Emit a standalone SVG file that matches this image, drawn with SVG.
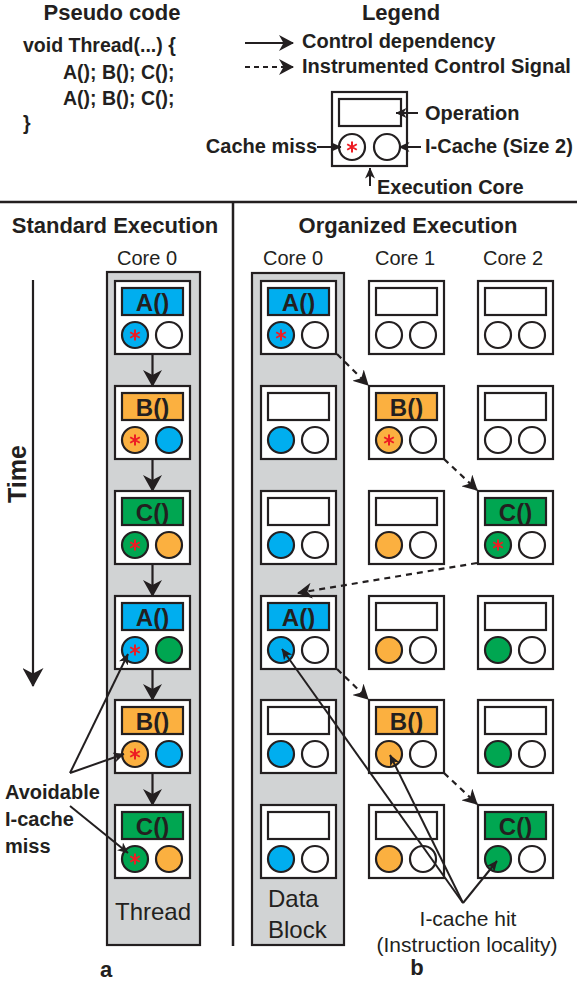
<svg xmlns="http://www.w3.org/2000/svg" width="579" height="982" viewBox="0 0 579 982">
<style>
text{font-family:"Liberation Sans",Arial,sans-serif;fill:#231F20}
.h{font-size:22px;font-weight:bold}
.code{font-size:19.5px;font-weight:bold}
.lg{font-size:20px;font-weight:bold}
.core{font-size:20px;text-anchor:middle}
.op{font-size:24px;font-weight:bold;text-anchor:middle}
.lbl{font-size:24px}
.hit{font-size:21px;text-anchor:middle}
.box{fill:#fff;stroke:#231F20;stroke-width:2.2}
.r{stroke:#231F20;stroke-width:2.2}
.bl{fill:#00AEEF}.or{fill:#FBB040}.gr{fill:#00A651}.wh{fill:#fff}
.col{fill:#D1D3D4;stroke:#231F20;stroke-width:2.2}
.ast{stroke:#ED1C24;stroke-width:2;fill:none}
.ln{stroke:#231F20;stroke-width:2.2;fill:none}
.thin{stroke:#231F20;stroke-width:2;fill:none}
.dash{stroke-dasharray:6 5}
.div{stroke:#231F20;stroke-width:2.5}
</style>
<defs>
<marker id="ahb" markerUnits="userSpaceOnUse" markerWidth="19" markerHeight="21" viewBox="0 0 19 21" refX="18" refY="10.5" orient="auto"><path d="M0,0L19,10.5L0,21L5.5,10.5z" fill="#231F20"/></marker>
<marker id="ah" markerUnits="userSpaceOnUse" markerWidth="17" markerHeight="19" viewBox="0 0 17 19" refX="16" refY="9.5" orient="auto"><path d="M0,0L17,9.5L0,19L5,9.5z" fill="#231F20"/></marker>
<marker id="ahm" markerUnits="userSpaceOnUse" markerWidth="15" markerHeight="16" viewBox="0 0 15 16" refX="14" refY="8" orient="auto"><path d="M0,0L15,8L0,16L4.5,8z" fill="#231F20"/></marker>
<marker id="ahs" markerUnits="userSpaceOnUse" markerWidth="11" markerHeight="10" viewBox="0 0 11 10" refX="10.5" refY="5" orient="auto"><path d="M0,0L11,5L0,10L3,5z" fill="#231F20"/></marker>
<path id="ast" class="ast" d="M0,-5.5V5.5M-4.8,-2.75L4.8,2.75M-4.8,2.75L4.8,-2.75"/>
</defs>

<g id="pseudo">
<text class="h" x="112" y="20" text-anchor="middle">Pseudo code</text>
<text class="code" x="23" y="52">void Thread(...) {</text>
<text class="code" x="63" y="79">A(); B(); C();</text>
<text class="code" x="63" y="105">A(); B(); C();</text>
<text class="code" x="23" y="130">}</text>
</g>

<g id="legend">
<text class="h" x="401" y="20" text-anchor="middle">Legend</text>
<line class="ln" x1="245" y1="43" x2="293" y2="43" marker-end="url(#ahm)"/>
<text class="lg" x="302" y="48">Control dependency</text>
<line class="ln" x1="245" y1="67" x2="293" y2="67" stroke-dasharray="5 4" marker-end="url(#ahm)"/>
<text class="lg" x="302" y="73">Instrumented Control Signal</text>
<g id="legend-core" transform="translate(332,92)">
<rect class="box" x="0" y="0" width="75" height="74"/>
<rect class="r wh" x="7" y="7" width="62" height="27"/>
<circle class="r wh" cx="20" cy="55" r="13"/>
<use href="#ast" x="20" y="55"/>
<circle class="r wh" cx="55" cy="55" r="13"/>
</g>
<line class="thin" x1="418" y1="113" x2="396" y2="113" marker-end="url(#ahs)"/>
<text class="lg" x="425" y="120">Operation</text>
<line class="thin" x1="317" y1="147" x2="341" y2="147" marker-end="url(#ahs)"/>
<text class="lg" x="317" y="153" text-anchor="end">Cache miss</text>
<line class="thin" x1="421" y1="147" x2="399" y2="147" marker-end="url(#ahs)"/>
<text class="lg" x="425" y="153">I-Cache (Size 2)</text>
<line class="thin" x1="370" y1="186" x2="370" y2="168" marker-end="url(#ahs)"/>
<text class="lg" x="377" y="194">Execution Core</text>
</g>

<line class="div" x1="0" y1="202" x2="577" y2="202"/>
<line class="div" x1="233" y1="202" x2="233" y2="946"/>

<text class="h" x="115" y="233" text-anchor="middle">Standard Execution</text>
<text class="h" x="408" y="233" text-anchor="middle">Organized Execution</text>
<text class="core" x="147" y="265">Core 0</text>
<text class="core" x="293" y="265">Core 0</text>
<text class="core" x="405" y="265">Core 1</text>
<text class="core" x="513" y="265">Core 2</text>

<g id="time">
<line class="ln" x1="33" y1="280" x2="33" y2="686" marker-end="url(#ahb)"/>
<text transform="translate(26,474) rotate(-90)" text-anchor="middle" font-size="25" font-weight="bold">Time</text>
</g>

<rect class="col" x="107" y="272" width="93" height="673"/>
<rect class="col" x="252" y="273" width="92" height="672"/>
<text class="lbl" x="153" y="920" text-anchor="middle">Thread</text>
<text class="lbl" x="268" y="907">Data</text>
<text class="lbl" x="268" y="938">Block</text>

<g id="a1" transform="translate(115,281)"><rect class="box" width="75" height="73"/><rect class="r bl" x="7" y="7" width="61" height="27"/><text class="op" x="37.5" y="30">A()</text><circle class="r bl" cx="20" cy="54" r="13"/><use href="#ast" x="20" y="54"/><circle class="r wh" cx="54" cy="54" r="13"/></g>
<g id="a2" transform="translate(115,386)"><rect class="box" width="75" height="73"/><rect class="r or" x="7" y="7" width="61" height="27"/><text class="op" x="37.5" y="30">B()</text><circle class="r or" cx="20" cy="54" r="13"/><use href="#ast" x="20" y="54"/><circle class="r bl" cx="54" cy="54" r="13"/></g>
<g id="a3" transform="translate(115,491)"><rect class="box" width="75" height="73"/><rect class="r gr" x="7" y="7" width="61" height="27"/><text class="op" x="37.5" y="30">C()</text><circle class="r gr" cx="20" cy="54" r="13"/><use href="#ast" x="20" y="54"/><circle class="r or" cx="54" cy="54" r="13"/></g>
<g id="a4" transform="translate(115,596)"><rect class="box" width="75" height="73"/><rect class="r bl" x="7" y="7" width="61" height="27"/><text class="op" x="37.5" y="30">A()</text><circle class="r bl" cx="20" cy="54" r="13"/><use href="#ast" x="20" y="54"/><circle class="r gr" cx="54" cy="54" r="13"/></g>
<g id="a5" transform="translate(115,700)"><rect class="box" width="75" height="73"/><rect class="r or" x="7" y="7" width="61" height="27"/><text class="op" x="37.5" y="30">B()</text><circle class="r or" cx="20" cy="54" r="13"/><use href="#ast" x="20" y="54"/><circle class="r bl" cx="54" cy="54" r="13"/></g>
<g id="a6" transform="translate(115,805)"><rect class="box" width="75" height="73"/><rect class="r gr" x="7" y="7" width="61" height="27"/><text class="op" x="37.5" y="30">C()</text><circle class="r gr" cx="20" cy="54" r="13"/><use href="#ast" x="20" y="54"/><circle class="r or" cx="54" cy="54" r="13"/></g>

<g id="b0-1" transform="translate(261,281)"><rect class="box" width="75" height="73"/><rect class="r bl" x="7" y="7" width="61" height="27"/><text class="op" x="37.5" y="30">A()</text><circle class="r bl" cx="20" cy="54" r="13"/><use href="#ast" x="20" y="54"/><circle class="r wh" cx="54" cy="54" r="13"/></g>
<g id="b0-2" transform="translate(261,386)"><rect class="box" width="75" height="73"/><rect class="r wh" x="7" y="7" width="61" height="27"/><circle class="r bl" cx="20" cy="54" r="13"/><circle class="r wh" cx="54" cy="54" r="13"/></g>
<g id="b0-3" transform="translate(261,491)"><rect class="box" width="75" height="73"/><rect class="r wh" x="7" y="7" width="61" height="27"/><circle class="r bl" cx="20" cy="54" r="13"/><circle class="r wh" cx="54" cy="54" r="13"/></g>
<g id="b0-4" transform="translate(261,596)"><rect class="box" width="75" height="73"/><rect class="r bl" x="7" y="7" width="61" height="27"/><text class="op" x="37.5" y="30">A()</text><circle class="r bl" cx="20" cy="54" r="13"/><circle class="r wh" cx="54" cy="54" r="13"/></g>
<g id="b0-5" transform="translate(261,700)"><rect class="box" width="75" height="73"/><rect class="r wh" x="7" y="7" width="61" height="27"/><circle class="r bl" cx="20" cy="54" r="13"/><circle class="r wh" cx="54" cy="54" r="13"/></g>
<g id="b0-6" transform="translate(261,805)"><rect class="box" width="75" height="73"/><rect class="r wh" x="7" y="7" width="61" height="27"/><circle class="r bl" cx="20" cy="54" r="13"/><circle class="r wh" cx="54" cy="54" r="13"/></g>

<g id="b1-1" transform="translate(369,281)"><rect class="box" width="75" height="73"/><rect class="r wh" x="7" y="7" width="61" height="27"/><circle class="r wh" cx="20" cy="54" r="13"/><circle class="r wh" cx="54" cy="54" r="13"/></g>
<g id="b1-2" transform="translate(369,386)"><rect class="box" width="75" height="73"/><rect class="r or" x="7" y="7" width="61" height="27"/><text class="op" x="37.5" y="30">B()</text><circle class="r or" cx="20" cy="54" r="13"/><use href="#ast" x="20" y="54"/><circle class="r wh" cx="54" cy="54" r="13"/></g>
<g id="b1-3" transform="translate(369,491)"><rect class="box" width="75" height="73"/><rect class="r wh" x="7" y="7" width="61" height="27"/><circle class="r or" cx="20" cy="54" r="13"/><circle class="r wh" cx="54" cy="54" r="13"/></g>
<g id="b1-4" transform="translate(369,596)"><rect class="box" width="75" height="73"/><rect class="r wh" x="7" y="7" width="61" height="27"/><circle class="r or" cx="20" cy="54" r="13"/><circle class="r wh" cx="54" cy="54" r="13"/></g>
<g id="b1-5" transform="translate(369,700)"><rect class="box" width="75" height="73"/><rect class="r or" x="7" y="7" width="61" height="27"/><text class="op" x="37.5" y="30">B()</text><circle class="r or" cx="20" cy="54" r="13"/><circle class="r wh" cx="54" cy="54" r="13"/></g>
<g id="b1-6" transform="translate(369,805)"><rect class="box" width="75" height="73"/><rect class="r wh" x="7" y="7" width="61" height="27"/><circle class="r or" cx="20" cy="54" r="13"/><circle class="r wh" cx="54" cy="54" r="13"/></g>

<g id="b2-1" transform="translate(478,281)"><rect class="box" width="75" height="73"/><rect class="r wh" x="7" y="7" width="61" height="27"/><circle class="r wh" cx="20" cy="54" r="13"/><circle class="r wh" cx="54" cy="54" r="13"/></g>
<g id="b2-2" transform="translate(478,386)"><rect class="box" width="75" height="73"/><rect class="r wh" x="7" y="7" width="61" height="27"/><circle class="r wh" cx="20" cy="54" r="13"/><circle class="r wh" cx="54" cy="54" r="13"/></g>
<g id="b2-3" transform="translate(478,491)"><rect class="box" width="75" height="73"/><rect class="r gr" x="7" y="7" width="61" height="27"/><text class="op" x="37.5" y="30">C()</text><circle class="r gr" cx="20" cy="54" r="13"/><use href="#ast" x="20" y="54"/><circle class="r wh" cx="54" cy="54" r="13"/></g>
<g id="b2-4" transform="translate(478,596)"><rect class="box" width="75" height="73"/><rect class="r wh" x="7" y="7" width="61" height="27"/><circle class="r gr" cx="20" cy="54" r="13"/><circle class="r wh" cx="54" cy="54" r="13"/></g>
<g id="b2-5" transform="translate(478,700)"><rect class="box" width="75" height="73"/><rect class="r wh" x="7" y="7" width="61" height="27"/><circle class="r gr" cx="20" cy="54" r="13"/><circle class="r wh" cx="54" cy="54" r="13"/></g>
<g id="b2-6" transform="translate(478,805)"><rect class="box" width="75" height="73"/><rect class="r gr" x="7" y="7" width="61" height="27"/><text class="op" x="37.5" y="30">C()</text><circle class="r gr" cx="20" cy="54" r="13"/><circle class="r wh" cx="54" cy="54" r="13"/></g>

<g id="connectors">
<line class="ln" x1="152.5" y1="355" x2="152.5" y2="386" marker-end="url(#ah)"/>
<line class="ln" x1="152.5" y1="460" x2="152.5" y2="491" marker-end="url(#ah)"/>
<line class="ln" x1="152.5" y1="565" x2="152.5" y2="596" marker-end="url(#ah)"/>
<line class="ln" x1="152.5" y1="670" x2="152.5" y2="700" marker-end="url(#ah)"/>
<line class="ln" x1="152.5" y1="774" x2="152.5" y2="805" marker-end="url(#ah)"/>
<line class="ln dash" x1="337" y1="354" x2="368" y2="385" marker-end="url(#ahm)"/>
<line class="ln dash" x1="444" y1="459" x2="477" y2="490" marker-end="url(#ahm)"/>
<line class="ln dash" x1="477" y1="563" x2="298" y2="593" marker-end="url(#ahm)"/>
<line class="ln dash" x1="337" y1="669" x2="368" y2="699" marker-end="url(#ahm)"/>
<line class="ln dash" x1="444" y1="773" x2="477" y2="804" marker-end="url(#ahm)"/>
<line class="thin" x1="70" y1="773" x2="128" y2="654" marker-end="url(#ahs)"/>
<line class="thin" x1="70" y1="773" x2="124" y2="754" marker-end="url(#ahs)"/>
<line class="thin" x1="70" y1="806" x2="128" y2="853" marker-end="url(#ahs)"/>
<line class="thin" x1="463" y1="903" x2="282" y2="649" marker-end="url(#ahs)"/>
<line class="thin" x1="463" y1="903" x2="390" y2="755" marker-end="url(#ahs)"/>
<line class="thin" x1="463" y1="903" x2="497" y2="861" marker-end="url(#ahs)"/>
</g>

<text class="lg" x="5" y="799">Avoidable</text>
<text class="lg" x="5" y="826">I-cache</text>
<text class="lg" x="5" y="853">miss</text>
<text class="hit" x="468" y="926">I-cache hit</text>
<text class="hit" x="467" y="952">(Instruction locality)</text>
<text class="h" x="106" y="977" text-anchor="middle">a</text>
<text class="h" x="417" y="975" text-anchor="middle">b</text>
</svg>
